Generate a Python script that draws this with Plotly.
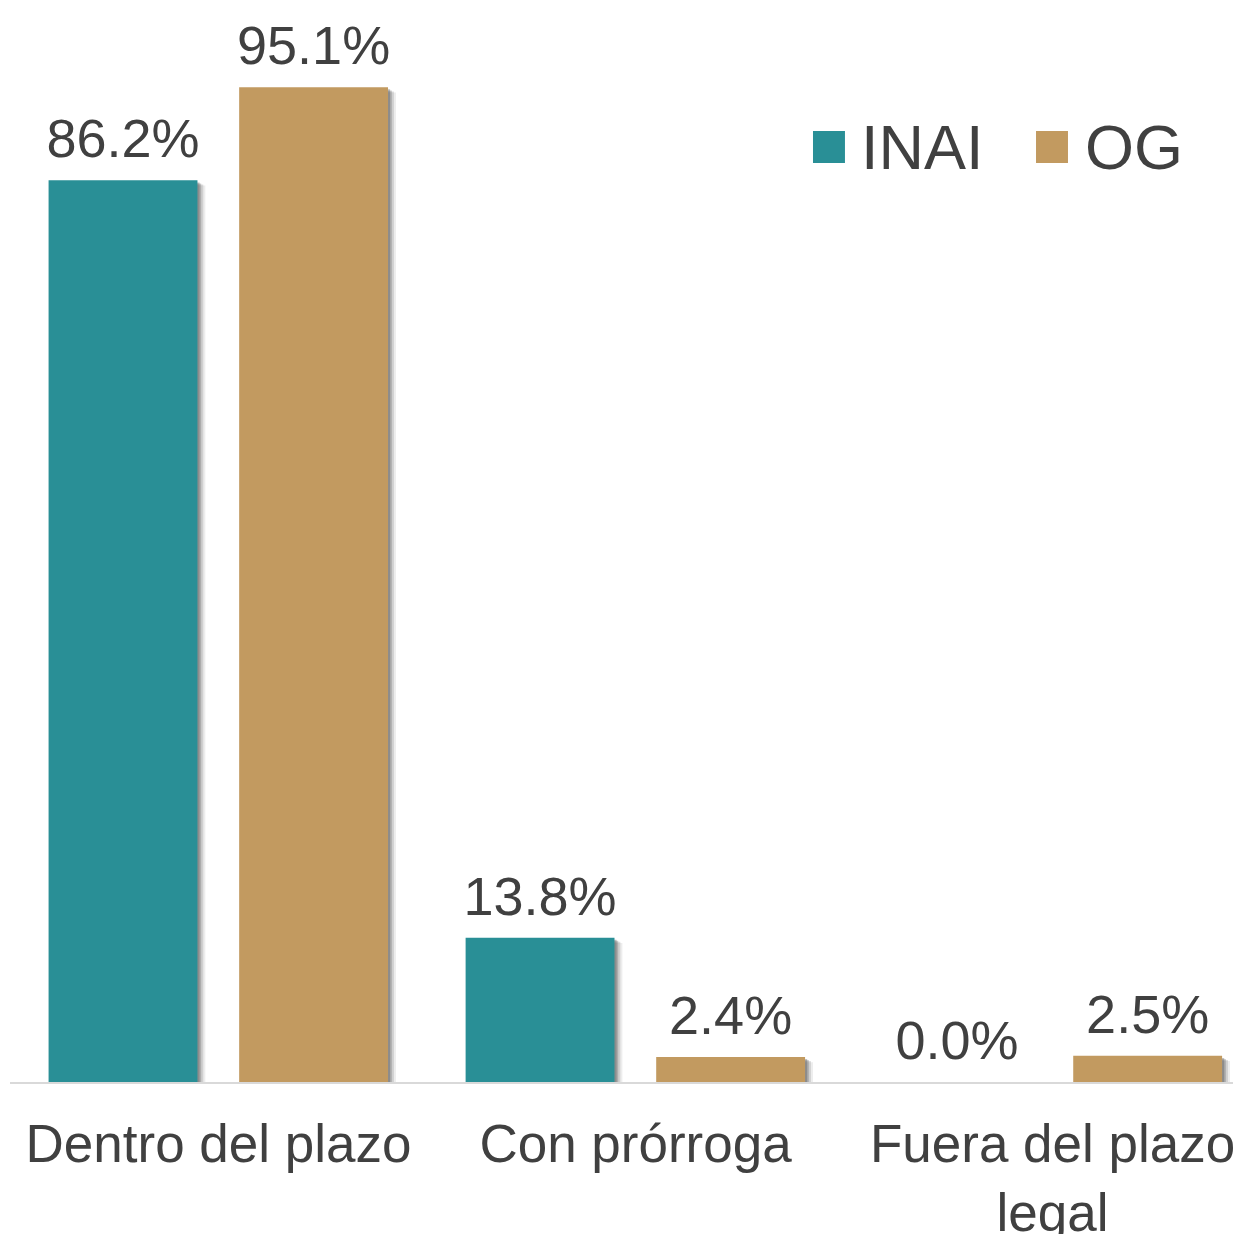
import plotly.graph_objects as go

categories = ["Dentro del plazo", "Con prórroga", "Fuera del plazo<br>legal"]
inai_values = [86.2, 13.8, 0.0]
og_values = [95.1, 2.4, 2.5]
series_names = ["INAI", "OG"]
colors = ["#298f96", "#c29a60"]
text_color = "#404040"
font_family = "Liberation Sans, Arial, sans-serif"

bar_width = 0.357
offsets = [-0.4075, 0.0495]
label_lift = 0.85  # gap between bar top and its label, in axis units

fig = go.Figure()

# soft shadows
for vals, off in zip([inai_values, og_values], offsets):
    for k, (dx, op) in enumerate([(0.019, 0.10), (0.014, 0.18), (0.009, 0.28), (0.005, 0.35)]):
        fig.add_trace(go.Bar(
            x=categories, y=vals, base=-0.5 + 0.1 * k,
            width=bar_width, offset=off + dx,
            marker=dict(color=f"rgba(80,80,80,{op})", line=dict(width=0)),
            showlegend=False, hoverinfo="skip",
        ))

for vals, off, name, col in zip([inai_values, og_values], offsets, series_names, colors):
    fig.add_trace(go.Bar(
        x=categories, y=vals, width=bar_width, offset=off, name=name,
        marker=dict(color=col, line=dict(width=0)), showlegend=False,
    ))
    # transparent carrier for the value labels
    fig.add_trace(go.Bar(
        x=categories, y=[label_lift] * len(vals), base=vals,
        width=bar_width, offset=off,
        marker=dict(color="rgba(0,0,0,0)", line=dict(width=0)),
        text=[f"{v:.1f}%" for v in vals], textposition="outside",
        textfont=dict(size=54, color=text_color, family=font_family),
        constraintext="none", cliponaxis=False, showlegend=False, hoverinfo="skip",
    ))

# legend (squares + labels)
legend_items = [
    (series_names[0], colors[0], 0.6481, 0.6739, 0.6852),
    (series_names[1], colors[1], 0.8281, 0.8539, 0.8660),
]
shapes = []
annotations = []
for name, col, x0, x1, xt in legend_items:
    shapes.append(dict(type="rect", xref="paper", yref="paper", x0=x0, x1=x1,
                       y0=0.8786, y1=0.9092, fillcolor=col, line=dict(width=0)))
    annotations.append(dict(xref="paper", yref="paper", x=xt, y=0.8939, xanchor="left",
                            yanchor="middle", text=name, showarrow=False,
                            font=dict(size=63, color=text_color, family=font_family)))

fig.update_layout(
    width=1241, height=1234,
    margin=dict(l=2, r=0, t=28, b=160),
    paper_bgcolor="white", plot_bgcolor="white",
    barmode="overlay",
    font=dict(family=font_family, color=text_color),
    showlegend=False,
    shapes=shapes, annotations=annotations,
    xaxis=dict(type="category", range=[-0.5, 2.471], showline=True, linecolor="#d9d9d9",
               linewidth=2, showgrid=False, ticks="", ticklabelstandoff=14,
               tickfont=dict(size=53, color=text_color), fixedrange=True),
    yaxis=dict(range=[0, 100], showgrid=False, zeroline=False, showticklabels=False,
               showline=False, ticks="", fixedrange=True),
)

fig.write_html("out.html")
